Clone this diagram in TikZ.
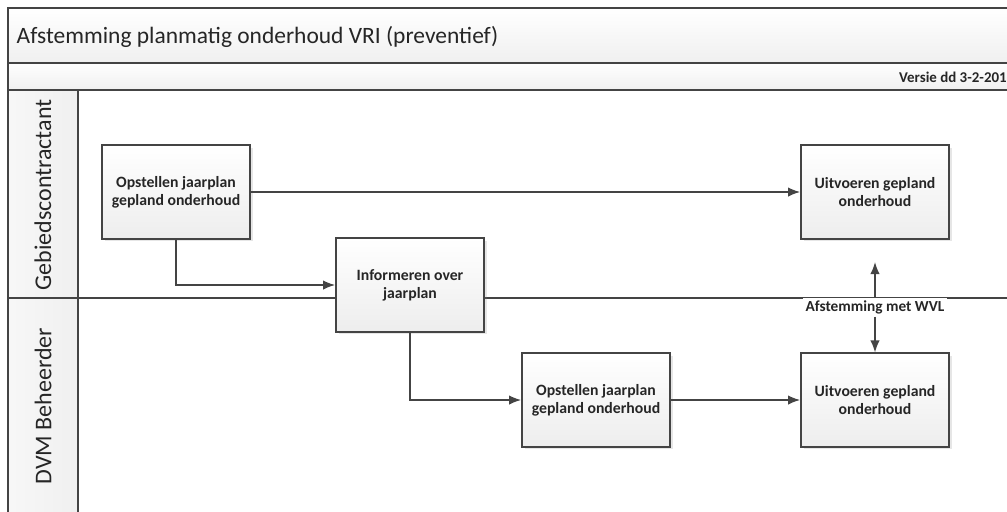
\documentclass[tikz,border=0pt]{standalone}
\usepackage{fontspec}
\setmainfont{Carlito}
\usetikzlibrary{arrows.meta, shadows}
\tikzset{>=Latex}
\definecolor{lijn}{HTML}{444444}

\tikzset{
	taak/.style = {draw=lijn, line width=1.3pt, top color=white, bottom color=gray!14,
		minimum width=111pt, minimum height=70pt, align=center, text=black!85,
		font=\bfseries\fontsize{11.8}{13.5}\selectfont,
		drop shadow={opacity=0.2, shadow xshift=2pt, shadow yshift=-2pt}},
	pijl/.style = {->, draw=lijn, line width=1.1pt, > = {Latex[length=9pt, width=7pt]}},
	band/.style = {draw=lijn, line width=1.1pt, top color=white, bottom color=gray!12},
	kop/.style = {draw=lijn, line width=1.1pt, left color=gray!6, right color=gray!12}
}

\begin{document}
\begin{tikzpicture}[x=0.75pt, y=-0.75pt]
	\useasboundingbox (0,0) rectangle (1007,511);
	\clip (0,0) rectangle (1007,511);
	% titel en versie
	\draw [band] (8,8) rectangle (1015,63);
	\draw [band] (8,63) rectangle (1015,90);
	\node [anchor=west, text=black!85, font=\fontsize{17.6}{20}\selectfont] (titel) at (12,37) {Afstemming planmatig onderhoud VRI (preventief)};
	\node [anchor=east, inner sep=0pt, text=black!85, font=\bfseries\fontsize{11.2}{13}\selectfont] (versie) at (1007,77) {Versie dd 3-2-201};
	% swimlanes
	\draw [kop] (8,90) rectangle (78,298);
	\draw [kop] (8,298) rectangle (78,520);
	\draw [draw=lijn, line width=1.1pt] (78,298) -- (1015,298);
	\node [rotate=90, text=black!85, font=\fontsize{18}{20}\selectfont] (gebied) at (43,195) {Gebiedscontractant};
	\node [rotate=90, text=black!85, font=\fontsize{18}{20}\selectfont] (dvm) at (43,406) {DVM Beheerder};
	% taken
	\node [taak] (plan1) at (176,192) {Opstellen jaarplan\\gepland onderhoud};
	\node [taak] (info) at (410,285) {Informeren over\\jaarplan};
	\node [taak] (uitv1) at (875,192) {Uitvoeren gepland\\onderhoud};
	\node [taak] (plan2) at (596,400) {Opstellen jaarplan\\gepland onderhoud};
	\node [taak] (uitv2) at (875,400) {Uitvoeren gepland\\onderhoud};
	\node [fill=white, inner sep=2pt, text=black!85, font=\bfseries\fontsize{11.5}{13}\selectfont] (wvl) at (875,307) {Afstemming met WVL};
	\coordinate (wvlpunt) at (875,262);
	% verbindingen
	\draw [pijl] (plan1) -- (uitv1);
	\draw [pijl] (plan1.south) |- (info.west);
	\draw [pijl] (info.south) |- (plan2.west);
	\draw [pijl] (plan2) -- (uitv2);
	\draw [pijl] (wvl) -- (wvlpunt);
	\draw [pijl] (wvl) -- (uitv2);
\end{tikzpicture}
\end{document}
